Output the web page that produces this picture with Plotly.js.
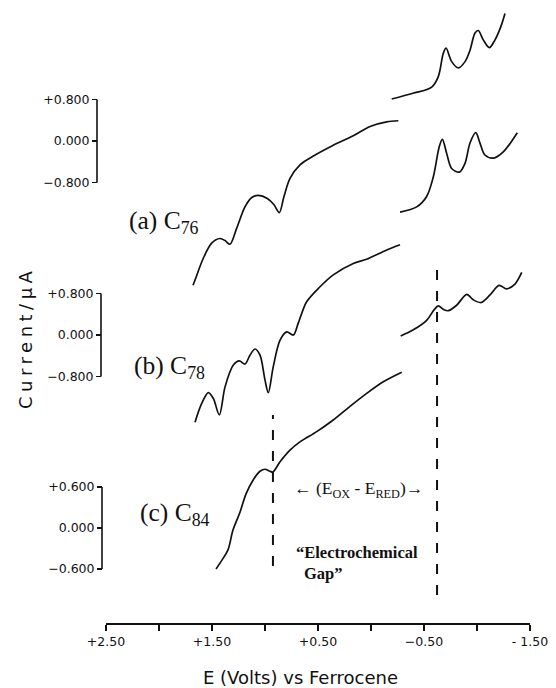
<!DOCTYPE html>
<html>
<head>
<meta charset="utf-8">
<script src="https://cdn.plot.ly/plotly-3.0.1.min.js"></script>
<style>html,body{margin:0;padding:0;background:#fff;}#chart{width:556px;height:688px;}</style>
</head>
<body>
<div id="chart"></div>
<script>
// ---- data: potential E (V vs Fc) and current (µA, relative to each scale bar's zero) ----
const E_a_ox = [1.679,1.660,1.582,1.503,1.425,1.377,1.330,1.267,1.189,1.125,1.063,0.978,0.915,0.865,0.821,0.764,0.670,0.544,0.356,0.167,0.009,-0.148,-0.258];
const I_a_ox = [-2.78,-2.68,-2.26,-1.97,-1.88,-1.92,-1.99,-1.68,-1.27,-1.09,-1.05,-1.11,-1.23,-1.38,-1.07,-0.72,-0.46,-0.29,-0.08,0.10,0.28,0.37,0.39];
const E_a_red = [-0.195,-0.396,-0.573,-0.635,-0.682,-0.708,-0.761,-0.824,-0.887,-0.934,-0.981,-1.012,-1.059,-1.116,-1.170,-1.224,-1.264];
const I_a_red = [0.81,0.92,1.04,1.24,1.69,1.79,1.53,1.41,1.53,1.75,2.08,2.13,1.95,1.80,1.95,2.20,2.46];

const E_b_ox = [1.660,1.597,1.535,1.488,1.431,1.377,1.299,1.242,1.189,1.142,1.094,1.047,1.000,0.969,0.922,0.858,0.795,0.733,0.686,0.607,0.481,0.356,0.167,0.041,-0.148,-0.274];
const I_b_ox = [-1.68,-1.32,-1.11,-1.22,-1.54,-1.00,-0.58,-0.50,-0.56,-0.39,-0.27,-0.39,-0.87,-1.11,-0.61,-0.10,0.06,0.00,0.23,0.64,0.93,1.16,1.38,1.46,1.64,1.74];
const E_b_red = [-0.274,-0.431,-0.525,-0.588,-0.644,-0.673,-0.714,-0.761,-0.833,-0.887,-0.934,-0.988,-1.028,-1.075,-1.154,-1.248,-1.380];
const I_b_red = [2.37,2.47,2.67,3.05,3.63,3.77,3.50,3.21,3.14,3.31,3.70,3.90,3.70,3.47,3.41,3.53,3.90];

const E_c_ox = [1.462,1.406,1.349,1.302,1.236,1.179,1.113,1.047,1.000,0.953,0.925,0.858,0.764,0.670,0.512,0.356,0.198,0.041,-0.116,-0.290];
const I_c_ox = [-0.60,-0.47,-0.32,-0.03,0.23,0.50,0.70,0.83,0.86,0.83,0.82,0.97,1.14,1.26,1.41,1.58,1.78,1.97,2.14,2.28];
const E_c_red = [-0.280,-0.399,-0.525,-0.594,-0.635,-0.682,-0.729,-0.808,-0.903,-0.965,-1.038,-1.123,-1.208,-1.280,-1.358,-1.422];
const I_c_red = [2.81,2.90,3.04,3.19,3.25,3.20,3.18,3.26,3.42,3.34,3.30,3.41,3.55,3.50,3.57,3.74];

// E_ox and E_red of C84 (dashed markers)
const E_OX = 0.925;
const E_RED = -0.623;

const xTickVals = [2.5,1.5,0.5,-0.5,-1.5];
const xTickText = ['+2.50','+1.50','+0.50','\u22120.50','- 1.50'];
const xMinorVals = [2.0,1.0,0.0,-1.0];
const scaleAB = [-0.8, 0, 0.8];
const scaleABText = ['\u22120.800','0.000','+0.800'];
const scaleC = [-0.6, 0, 0.6];
const scaleCText = ['\u22120.600','0.000','+0.600'];
const labels = ['(a) C<sub>76</sub>','(b) C<sub>78</sub>','(c) C<sub>84</sub>'];

// ---- layout geometry ----
const W = 556, H = 688, L = 40, R = 26, T = 0, B = 65;
const PW = W - L - R, PH = H - T - B;
const px = x => (x - L) / PW;
const py = y => 1 - (y - T) / PH;
function rangeFor(zeroPx, pxPerUnit){ return [-(PH - (zeroPx - T)) / pxPerUnit, (zeroPx - T) / pxPerUnit]; }

const ink = '#111';
const lw = 1.7;
function tr(x, y, ax){ return {x:x, y:y, yaxis:ax, type:'scatter', mode:'lines', line:{color:ink, width:lw, shape:'spline', smoothing:0.9}, hoverinfo:'skip', showlegend:false}; }

const data = [
  tr(E_a_ox, I_a_ox, 'y'), tr(E_a_red, I_a_red, 'y'),
  tr(E_b_ox, I_b_ox, 'y2'), tr(E_b_red, I_b_red, 'y2'),
  tr(E_c_ox, I_c_ox, 'y3'), tr(E_c_red, I_c_red, 'y3')
];

const tickFont = {family:'DejaVu Sans, sans-serif', size:12.5, color:ink};
function yAx(pos, range, vals, text, overlay){
  const a = {domain:[0,1], range:range, anchor:'free', position:pos, side:'left', showline:false, showgrid:false, zeroline:false,
    tickmode:'array', tickvals:vals, ticktext:text, ticks:'outside', ticklen:5, tickwidth:1.5, tickcolor:ink, tickfont:tickFont, fixedrange:true};
  if (overlay) a.overlaying = 'y';
  return a;
}

const posA = px(97), posB = px(101), posC = px(102);
const dashStyle = {color:ink, width:2, dash:'10px,11px'};
const layout = {
  width:W, height:H, margin:{l:L, r:R, t:T, b:B, pad:0},
  paper_bgcolor:'#fff', plot_bgcolor:'rgba(0,0,0,0)',
  showlegend:false,
  xaxis:{domain:[px(106),1], range:[2.5,-1.5], anchor:'y', showline:true, linewidth:2, linecolor:ink, showgrid:false, zeroline:false,
    tickmode:'array', tickvals:xTickVals, ticktext:xTickText, ticks:'outside', ticklen:6, tickwidth:1.5, tickcolor:ink, tickfont:tickFont,
    minor:{tickmode:'array', tickvals:xMinorVals, ticks:'outside', ticklen:6, tickwidth:1.5, tickcolor:ink, showgrid:false}, fixedrange:true},
  yaxis: yAx(posA, rangeFor(141, 51.875), scaleAB, scaleABText, false),
  yaxis2: yAx(posB, rangeFor(335, 51.875), scaleAB, scaleABText, true),
  yaxis3: yAx(posC, rangeFor(528, 68.33), scaleC, scaleCText, true),
  shapes:[
    {type:'line', xref:'paper', yref:'y', x0:posA, x1:posA, y0:-0.8, y1:0.8, line:{color:ink, width:1.6}},
    {type:'line', xref:'paper', yref:'y2', x0:posB, x1:posB, y0:-0.8, y1:0.8, line:{color:ink, width:1.6}},
    {type:'line', xref:'paper', yref:'y3', x0:posC, x1:posC, y0:-0.6, y1:0.6, line:{color:ink, width:1.6}},
    {type:'line', xref:'x', yref:'y3', x0:E_OX, x1:E_OX, y0:-0.556, y1:1.654, line:dashStyle},
    {type:'line', xref:'x', yref:'y3', x0:E_RED, x1:E_RED, y0:-0.981, y1:3.878, line:dashStyle}
  ],
  annotations:[
    {xref:'paper', yref:'paper', x:px(25), y:py(338), text:'<span style="letter-spacing:4.5px">Current/\u00b5A</span>', textangle:-90, showarrow:false, xanchor:'center', yanchor:'middle',
      font:{family:'DejaVu Sans, sans-serif', size:18, color:ink}},
    {xref:'paper', yref:'paper', x:px(300), y:py(678), text:'E (Volts) vs Ferrocene', showarrow:false, xanchor:'center', yanchor:'middle',
      font:{family:'DejaVu Sans, sans-serif', size:18, color:ink}},
    {xref:'paper', yref:'paper', x:px(127), y:py(222), text:labels[0], showarrow:false, xanchor:'left', yanchor:'middle',
      font:{family:'Liberation Serif, serif', size:25.5, color:ink}},
    {xref:'paper', yref:'paper', x:px(132), y:py(367), text:labels[1], showarrow:false, xanchor:'left', yanchor:'middle',
      font:{family:'Liberation Serif, serif', size:25.5, color:ink}},
    {xref:'paper', yref:'paper', x:px(138), y:py(514), text:labels[2], showarrow:false, xanchor:'left', yanchor:'middle',
      font:{family:'Liberation Serif, serif', size:25.5, color:ink}},
    {xref:'paper', yref:'paper', x:px(292), y:py(489), text:'\u2190 (E<sub>OX</sub> - E<sub>RED</sub>)\u2192', showarrow:false, xanchor:'left', yanchor:'middle',
      font:{family:'Liberation Serif, serif', size:17.5, color:ink}},
    {xref:'paper', yref:'paper', x:px(294), y:py(552), text:'\u201cElectrochemical', showarrow:false, xanchor:'left', yanchor:'middle',
      font:{family:'Liberation Serif, serif', size:16.5, color:ink, weight:'bold'}},
    {xref:'paper', yref:'paper', x:px(302), y:py(573), text:'Gap\u201d', showarrow:false, xanchor:'left', yanchor:'middle',
      font:{family:'Liberation Serif, serif', size:16.5, color:ink, weight:'bold'}}
  ]
};

Plotly.newPlot('chart', data, layout, {staticPlot:true, displayModeBar:false});
</script>
</body>
</html>
